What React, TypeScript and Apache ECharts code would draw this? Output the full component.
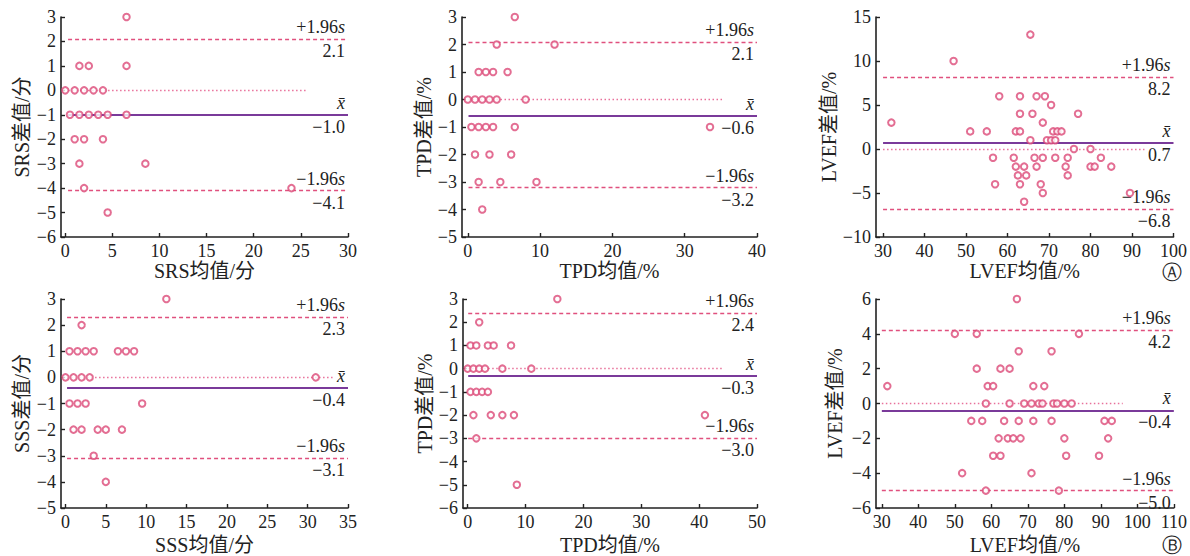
import React, { useEffect, useRef } from 'react';
import * as echarts from 'echarts';

// ---------- data (mean value, difference) ----------
const srsPoints: number[][] = [
  [6.5, 3],
  [1.5, 1], [2.5, 1], [6.5, 1],
  [0, 0], [1, 0], [2, 0], [3, 0], [4, 0],
  [0.5, -1], [1.5, -1], [2.5, -1], [3.5, -1], [4.5, -1], [6.5, -1],
  [1, -2], [2, -2], [4, -2],
  [1.5, -3], [8.5, -3],
  [2, -4], [24, -4],
  [4.5, -5],
];
const tpdPointsA: number[][] = [
  [6.5, 3],
  [4, 2], [12, 2],
  [1.5, 1], [2.5, 1], [3.5, 1], [5.5, 1],
  [0, 0], [1, 0], [2, 0], [3, 0], [4, 0], [8, 0],
  [0.5, -1], [1.5, -1], [2.5, -1], [3.5, -1], [6.5, -1], [33.5, -1],
  [1, -2], [3, -2], [6, -2],
  [1.5, -3], [4.5, -3], [9.5, -3],
  [2, -4],
];
const lvefPointsA: number[][] = [
  [32, 3], [47, 10], [51, 2], [55, 2], [65.5, 13],
  [58, 6], [63, 6], [67, 6], [69, 6],
  [70.5, 5],
  [63, 4], [66, 4], [77, 4],
  [68.5, 3],
  [62, 2], [63, 2], [71, 2], [72, 2], [73, 2],
  [65.5, 1], [69.5, 1], [70.5, 1], [71.5, 1],
  [76, 0], [80, 0],
  [56.5, -1], [61.5, -1], [66.5, -1], [68.5, -1], [71.5, -1], [74.5, -1], [82.5, -1],
  [62, -2], [64, -2], [67, -2], [74, -2], [80, -2], [81, -2], [85, -2],
  [62.5, -3], [64.5, -3], [74.5, -3],
  [57, -4], [63, -4], [68, -4],
  [68.5, -5], [89.5, -5],
  [64, -6],
];
const sssPoints: number[][] = [
  [12.5, 3], [2, 2],
  [0.5, 1], [1.5, 1], [2.5, 1], [3.5, 1], [6.5, 1], [7.5, 1], [8.5, 1],
  [0, 0], [1, 0], [2, 0], [3, 0], [31, 0],
  [0.5, -1], [1.5, -1], [2.5, -1], [9.5, -1],
  [1, -2], [2, -2], [4, -2], [5, -2], [7, -2],
  [3.5, -3],
  [5, -4],
];
const tpdPointsB: number[][] = [
  [15.5, 3], [2, 2],
  [0.5, 1], [1.5, 1], [3.5, 1], [4.5, 1], [7.5, 1],
  [0, 0], [1, 0], [2, 0], [3, 0], [6, 0], [11, 0],
  [0.5, -1], [1.5, -1], [2.5, -1], [3.5, -1],
  [1, -2], [4, -2], [6, -2], [8, -2], [41, -2],
  [1.5, -3],
  [8.5, -5],
];
const lvefPointsB: number[][] = [
  [31.5, 1], [50, 4], [56, 4], [56, 2], [67, 6], [84, 4],
  [67.5, 3], [76.5, 3],
  [62.5, 2], [65, 2],
  [59, 1], [60.5, 1], [71.5, 1], [74.5, 1],
  [58.5, 0], [65, 0], [69, 0], [71, 0], [73, 0], [74, 0], [77, 0], [78, 0], [80, 0], [82, 0],
  [54.5, -1], [57.5, -1], [63.5, -1], [67.5, -1], [71.5, -1], [76.5, -1], [91, -1], [93, -1],
  [62, -2], [64.5, -2], [66, -2], [68, -2], [80, -2], [92, -2],
  [60.5, -3], [62.5, -3], [80.5, -3], [89.5, -3],
  [52, -4], [71, -4],
  [58.5, -5], [78.5, -5],
];

// limits: [upper +1.96s, mean, lower -1.96s]
const srsLimits = [2.1, -1.0, -4.1];
const tpdLimitsA = [2.1, -0.6, -3.2];
const lvefLimitsA = [8.2, 0.7, -6.8];
const sssLimits = [2.3, -0.4, -3.1];
const tpdLimitsB = [2.4, -0.3, -3.0];
const lvefLimitsB = [4.2, -0.4, -5.0];

// x tick labels
const xTicks1 = [0, 5, 10, 15, 20, 25, 30];
const xTicks2 = [0, 10, 20, 30, 40];
const xTicks3 = [30, 40, 50, 60, 70, 80, 90, 100];
const xTicks4 = [0, 5, 10, 15, 20, 25, 30, 35];
const xTicks5 = [0, 10, 20, 30, 40, 50];
const xTicks6 = [30, 40, 50, 60, 70, 80, 90, 100, 110];

const xNames = ['SRS均值/分', 'TPD均值/%', 'LVEF均值/%', 'SSS均值/分', 'TPD均值/%', 'LVEF均值/%'];
const yNames = ['SRS差值/分', 'TPD差值/%', 'LVEF差值/%', 'SSS差值/分', 'TPD差值/%', 'LVEF差值/%'];

// ---------- styling / layout ----------
const SERIF = '"Liberation Serif", "Times New Roman", "Noto Sans CJK SC", serif';
const TXT = '#222';
const PT = '#dc4a78';
const DASH = '#e0507e';
const MEAN = '#7a3a9a';
const ZERO = '#e8709a';

interface Panel {
  pts: number[][];
  lim: number[];
  ticks: number[];
  grid: { left: number; top: number; width: number; height: number };
  xMin: number; xMax: number;
  yMin: number; yMax: number; yInt: number;
  lineStart: number; zeroEnd: number;
  yGap: number; xGap: number;
}

const TOP1 = 17, H1 = 220, TOP2 = 299, H2 = 209;

const panels: Panel[] = [
  { pts: srsPoints, lim: srsLimits, ticks: xTicks1, grid: { left: 61, top: TOP1, width: 287, height: H1 },
    xMin: -0.45, xMax: 30, yMin: -6, yMax: 3, yInt: 1, lineStart: 0.3, zeroEnd: 25.7, yGap: 29, xGap: 24 },
  { pts: tpdPointsA, lim: tpdLimitsA, ticks: xTicks2, grid: { left: 462, top: TOP1, width: 295, height: H1 },
    xMin: -0.8, xMax: 40, yMin: -5, yMax: 3, yInt: 1, lineStart: 0.1, zeroEnd: 35.3, yGap: 27, xGap: 24 },
  { pts: lvefPointsA, lim: lvefLimitsA, ticks: xTicks3, grid: { left: 876, top: TOP1, width: 301, height: H1 },
    xMin: 28.3, xMax: 100, yMin: -10, yMax: 15, yInt: 5, lineStart: 30, zeroEnd: 93, yGap: 37, xGap: 24 },
  { pts: sssPoints, lim: sssLimits, ticks: xTicks4, grid: { left: 61, top: TOP2, width: 287, height: H2 },
    xMin: -0.55, xMax: 35, yMin: -5, yMax: 3, yInt: 1, lineStart: 0.2, zeroEnd: 33.4, yGap: 29, xGap: 27 },
  { pts: tpdPointsB, lim: tpdLimitsB, ticks: xTicks5, grid: { left: 463, top: TOP2, width: 294, height: H2 },
    xMin: -0.8, xMax: 50, yMin: -6, yMax: 3, yInt: 1, lineStart: 0.1, zeroEnd: 44, yGap: 27, xGap: 27 },
  { pts: lvefPointsB, lim: lvefLimitsB, ticks: xTicks6, grid: { left: 876, top: TOP2, width: 301, height: H2 },
    xMin: 28.4, xMax: 110, yMin: -6, yMax: 6, yInt: 2, lineStart: 30, zeroEnd: 96, yGap: 31, xGap: 27 },
];

const minus = (v: number | string) => String(v).replace('-', '−');
const fmtVal = (v: number) => minus(v.toFixed(1));

const FS = 18;
const rich = {
  n: { fontFamily: SERIF, fontSize: FS, color: TXT },
  i: { fontFamily: SERIF, fontSize: FS, color: TXT, fontStyle: 'italic' },
};

function lineLabel(text: string, pos: string) {
  return { show: true, position: pos, formatter: text, rich, distance: 3, color: TXT, opacity: 1 };
}

function buildOption() {
  const grid: any[] = [];
  const xAxis: any[] = [];
  const yAxis: any[] = [];
  const series: any[] = [];
  panels.forEach((p, i) => {
    grid.push({ ...p.grid, containLabel: false });
    xAxis.push({
      type: 'value', gridIndex: i, min: p.xMin, max: p.xMax,
      name: xNames[i], nameLocation: 'middle', nameGap: p.xGap,
      nameTextStyle: { fontFamily: SERIF, fontSize: 20, color: TXT },
      axisLine: { show: true, onZero: false, lineStyle: { color: TXT, width: 1.6 } },
      axisTick: { show: true, inside: true, length: 4, customValues: p.ticks, lineStyle: { color: TXT, width: 1.4 } },
      axisLabel: { customValues: p.ticks, margin: 5, fontFamily: SERIF, fontSize: FS, color: TXT, formatter: minus },
      splitLine: { show: false },
    });
    yAxis.push({
      type: 'value', gridIndex: i, min: p.yMin, max: p.yMax, interval: p.yInt,
      name: yNames[i], nameLocation: 'middle', nameGap: p.yGap,
      nameTextStyle: { fontFamily: SERIF, fontSize: 20, color: TXT },
      axisLine: { show: true, onZero: false, lineStyle: { color: TXT, width: 1.6 } },
      axisTick: { show: true, inside: true, length: 4, lineStyle: { color: TXT, width: 1.4 } },
      axisLabel: { margin: 5, fontFamily: SERIF, fontSize: FS, color: TXT, formatter: minus },
      splitLine: { show: false },
    });
    const [up, mean, lo] = p.lim;
    const s = p.lineStart, e = p.xMax;
    const dash = () => ({ color: DASH, width: 1.3, type: [4, 3], opacity: 1 });
    const hidden = () => ({ color: 'rgba(0,0,0,0)', width: 1, type: 'solid', opacity: 1 });
    series.push({
      type: 'scatter', xAxisIndex: i, yAxisIndex: i, data: p.pts,
      symbol: 'emptyCircle', symbolSize: 6.5,
      itemStyle: { color: PT, borderWidth: 1.4 },
      z: 5,
      markLine: {
        silent: true, symbol: ['none', 'none'], animation: false,
        data: [
          [{ coord: [s, 0], lineStyle: { color: ZERO, width: 1.3, type: [1.5, 2.5], opacity: 1 }, label: { show: false } }, { coord: [p.zeroEnd, 0] }],
          [{ coord: [s, up], lineStyle: hidden(), label: lineLabel(`{n|${fmtVal(up)}}`, 'insideEndBottom') }, { coord: [e, up] }],
          [{ coord: [s, up], lineStyle: dash(), label: lineLabel('{n|+1.96}{i|s}', 'insideEndTop') }, { coord: [e, up] }],
          [{ coord: [s, mean], lineStyle: hidden(), label: lineLabel(`{n|${fmtVal(mean)}}`, 'insideEndBottom') }, { coord: [e, mean] }],
          [{ coord: [s, mean], lineStyle: { color: MEAN, width: 2, type: 'solid', opacity: 1 }, label: lineLabel('{i|x̄}', 'insideEndTop') }, { coord: [e, mean] }],
          [{ coord: [s, lo], lineStyle: hidden(), label: lineLabel(`{n|${fmtVal(lo)}}`, 'insideEndBottom') }, { coord: [e, lo] }],
          [{ coord: [s, lo], lineStyle: dash(), label: lineLabel('{n|−1.96}{i|s}', 'insideEndTop') }, { coord: [e, lo] }],
        ],
      },
    });
  });
  return {
    animation: false,
    backgroundColor: '#fff',
    grid, xAxis, yAxis, series,
    graphic: [
      { type: 'text', right: 8, top: 262, style: { text: 'Ⓐ', font: '20px "DejaVu Sans"', fill: TXT } },
      { type: 'text', right: 8, top: 535, style: { text: 'Ⓑ', font: '20px "DejaVu Sans"', fill: TXT } },
    ],
  };
}

export default function App() {
  const ref = useRef<HTMLDivElement>(null);
  useEffect(() => {
    const chart = echarts.init(ref.current!, null, { renderer: 'svg' });
    chart.setOption(buildOption() as any);
    return () => chart.dispose();
  }, []);
  return (
    <div
      ref={ref}
      style={{ position: 'fixed', left: 0, top: 0, width: 1190, height: 556, background: '#fff' }}
    />
  );
}
